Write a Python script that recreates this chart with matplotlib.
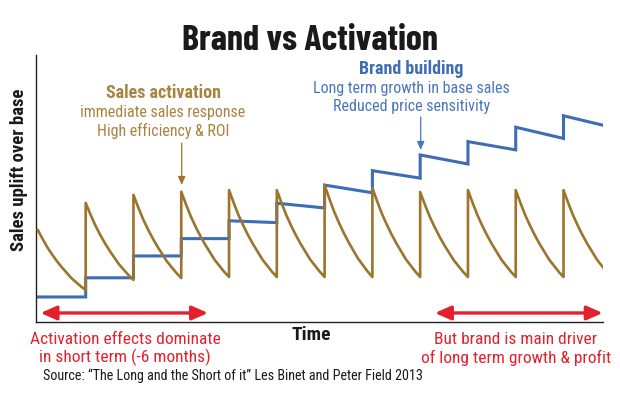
import matplotlib
matplotlib.use("Agg")
import matplotlib.pyplot as plt
from matplotlib import font_manager
from matplotlib.patches import FancyArrowPatch

# cycle peaks / troughs of the activation sawtooth (uplift units, 0-100 axis)
brown_peaks = [34.3, 44.5, 47.5, 48.7, 49.3, 49.3, 51.2, 50.1, 48.6, 49.3, 49.3, 49.3]
brown_troughs = [11.8, 15.6, 16.3, 16.7, 16.7, 16.7, 16.7, 16.7, 16.7, 16.7, 16.7, 16.7]
# share of the drop reached at equal steps through one cycle
decay_profile = [0.0, 0.15, 0.29, 0.41, 0.52, 0.62, 0.71, 0.80, 0.87, 0.94, 1.0]

# brand base level at start and end of each cycle
blue_start = [9.2, 16.4, 24.6, 31.1, 37.8, 44.4, 51.2, 56.6, 62.5, 67.5, 72.9, 77.2]
blue_end = [9.2, 16.4, 24.6, 31.1, 37.1, 42.6, 48.3, 53.8, 59.1, 64.4, 68.7, 72.9]

title = "Brand vs Activation"
ylabel = "Sales uplift over base"
xlabel = "Time"
act_head = "Sales activation"
act_lines = ["immediate sales response", "High efficiency & ROI"]
brand_head = "Brand building"
brand_lines = ["Long term growth in base sales", "Reduced price sensitivity"]
left_note = ["Activation effects dominate", "in short term (-6 months)"]
right_note = ["But brand is main driver", "of long term growth & profit"]
source = "Source: \u201cThe Long and the Short of it\u201d Les Binet and Peter Field 2013"

BROWN = "#9c742c"
BROWN_TXT = "#a8843f"
BLUE = "#3d6db5"
BLUE_TXT = "#4a76bd"
RED = "#e3202b"

names = {f.name for f in font_manager.fontManager.ttflist}


def pick(*cands):
    for c in cands:
        if c in names:
            return c
    return "Liberation Sans"


body_font = pick("Roboto Condensed", "Barlow Semi Condensed", "Liberation Sans Narrow")
title_font = pick("Barlow Condensed", "Roboto Condensed", "Liberation Sans Narrow")
plt.rcParams["font.family"] = [body_font, "DejaVu Sans"]


def sawtooth():
    ts, ys = [], []
    n = len(decay_profile) - 1
    for i, (pk, tr) in enumerate(zip(brown_peaks, brown_troughs)):
        for j, f in enumerate(decay_profile):
            ts.append(i + j / n)
            ys.append(pk - (pk - tr) * f)
    return ts, ys


def steps():
    ts, ys = [], []
    for i, (a, b) in enumerate(zip(blue_start, blue_end)):
        ts += [i, i + 1]
        ys += [a, b]
    return ts, ys


fig = plt.figure(figsize=(6.2, 4.04), dpi=100)
ax = fig.add_axes([36 / 620, 1 - 321.5 / 404, 566.7 / 620, 266.5 / 404])

bt, by = steps()
ax.plot(bt, by, color=BLUE, lw=2.2, solid_joinstyle="miter", zorder=2)
st, sy = sawtooth()
ax.plot(st, sy, color=BROWN, lw=1.9, zorder=3)

ax.set_xlim(-0.04, 11.82)
ax.set_ylim(0, 100)
ax.set_xticks([])
ax.set_yticks([])
for s in ["top", "right"]:
    ax.spines[s].set_visible(False)
for s in ["left", "bottom"]:
    ax.spines[s].set_color("#222222")
    ax.spines[s].set_linewidth(1.0)

# red double arrows
for x0, x1 in [(0.008, 0.3035), (0.704, 1.0)]:
    ar = FancyArrowPatch((x0, 0.032), (x1, 0.032), transform=ax.transAxes,
                         arrowstyle="<|-|>,head_length=0.95,head_width=0.42",
                         mutation_scale=10, color=RED, lw=2.4,
                         shrinkA=0, shrinkB=0, clip_on=False)
    ax.add_patch(ar)


# small pointer arrows
def pointer(x, y0, y1, col):
    ar = FancyArrowPatch((x / 620, 1 - y0 / 404), (x / 620, 1 - y1 / 404),
                         transform=fig.transFigure,
                         arrowstyle="-|>,head_length=0.5,head_width=0.22",
                         mutation_scale=10, color=col, lw=0.9,
                         shrinkA=0, shrinkB=0)
    fig.add_artist(ar)


pointer(181.7, 143, 185, BROWN)
pointer(420.7, 117, 150, BLUE_TXT)


def ftext(x, y, s, **kw):
    fig.text(x / 620, 1 - y / 404, s, ha="center", va="center", **kw)


ftext(310, 41, title, fontsize=26, fontweight="bold", color="#1a1a1a",
      family=[title_font, "DejaVu Sans"])
ftext(19, 170, ylabel, fontsize=13.5, fontweight="bold", rotation=90, color="#1a1a1a")
ftext(311, 334.5, xlabel, fontsize=14, fontweight="bold", color="#1a1a1a")

ftext(163, 93, act_head, fontsize=13, fontweight="bold", color=BROWN_TXT)
ftext(163, 112.5, act_lines[0], fontsize=11.5, color=BROWN_TXT)
ftext(163, 130.5, act_lines[1], fontsize=11.5, color=BROWN_TXT)

ftext(411.5, 69, brand_head, fontsize=13, fontweight="bold", color=BLUE)
ftext(411.5, 88, brand_lines[0], fontsize=11.5, color=BLUE_TXT)
ftext(411.5, 106.7, brand_lines[1], fontsize=11.5, color=BLUE_TXT)

ftext(125, 339.5, left_note[0], fontsize=12.5, color=RED)
ftext(125, 357.5, left_note[1], fontsize=12.5, color=RED)
ftext(516, 339.5, right_note[0], fontsize=12.5, color=RED)
ftext(516, 357.5, right_note[1], fontsize=12.5, color=RED)

fig.text(42.7 / 620, 1 - 376 / 404, source, ha="left", va="center",
         fontsize=10.2, color="#1a1a1a")

fig.savefig("out.png", dpi=100)
